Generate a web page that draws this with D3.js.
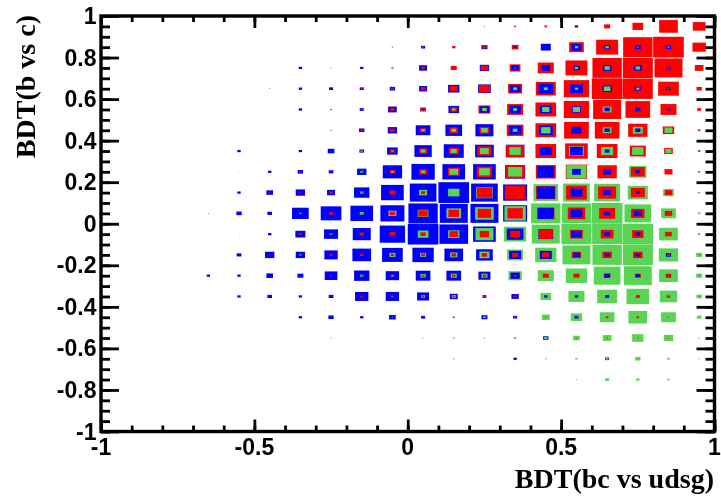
<!DOCTYPE html>
<html><head><meta charset="utf-8">
<script src="https://cdn.jsdelivr.net/npm/d3@7/dist/d3.min.js"></script>
<style>html,body{margin:0;padding:0;background:#fff}svg{display:block;filter:blur(0.45px)}</style>
</head><body><svg id="c" width="721" height="502"></svg>
<script>
const xCenters=[-0.65,-0.55,-0.45,-0.35,-0.25,-0.15,-0.05,0.05,0.15,0.25,0.35,0.45,0.55,0.65,0.75,0.85,0.95];
const yCenters=[0.95,0.85,0.75,0.65,0.55,0.45,0.35,0.25,0.15,0.05,-0.05,-0.15,-0.25,-0.35,-0.45,-0.55,-0.65,-0.75];
// box widths per bin (92 = full bin)
const redSizes=[
[0,0,0,0,0,0,0,0,0,3,6,8,3,18,32,56,38],
[0,0,0,0,0,0,4,6,10,12,20,2,44,66,88,92,40],
[0,0,0,0,3,4,6,10,18,22,32,48,66,88,90,84,26],
[0,0,3,0,3,6,8,14,24,34,42,60,76,92,90,62,16],
[0,0,0,0,5,5,12,18,20,36,48,62,76,84,74,48,12],
[0,0,0,0,4,8,14,18,26,30,50,62,74,74,58,34,6],
[0,0,0,0,3,6,14,24,30,42,54,62,68,62,48,26,6],
[0,2,0,6,4,6,16,24,36,46,58,60,64,58,42,24,4],
[0,0,4,4,10,4,18,12,0,46,62,58,62,54,42,22,6],
[3,0,0,0,12,4,16,28,32,40,46,52,52,48,40,22,6],
[0,2,2,8,6,14,18,16,26,28,30,42,38,38,34,20,6],
[0,0,4,0,8,10,10,12,14,16,18,22,28,28,28,10,4],
[0,0,0,3,6,6,10,8,10,10,8,18,18,20,18,14,4],
[0,0,0,2,0,8,4,8,6,8,8,0,0,0,12,10,3],
[0,0,0,0,0,0,3,0,6,0,0,4,6,8,8,4,0],
[0,0,0,0,3,0,0,3,0,0,0,0,4,4,4,4,0],
[0,0,0,0,0,0,0,0,0,0,0,0,0,0,0,0,0],
[0,0,0,0,0,0,0,0,0,0,0,0,0,0,0,0,0]];
const greenSizes=[
[0,0,0,0,0,0,0,0,0,0,0,0,0,0,0,0,0],
[0,0,0,0,0,0,0,0,0,0,0,0,10,10,5,6,0],
[0,0,0,0,0,0,0,0,0,0,4,0,10,16,14,4,0],
[0,0,0,0,0,0,0,0,0,0,12,12,10,20,10,4,0],
[0,0,0,0,0,0,0,8,10,14,12,22,22,26,0,0,0],
[0,0,0,0,0,0,0,10,14,20,14,28,0,26,30,24,8],
[0,0,0,0,0,8,6,14,18,26,34,0,44,36,34,18,8],
[0,0,0,0,0,10,8,12,26,32,42,0,60,0,52,0,8],
[0,0,0,0,0,10,0,24,34,50,0,74,80,78,60,32,4],
[0,0,0,6,0,12,24,32,44,56,64,88,88,92,80,44,6],
[0,0,0,0,8,0,0,32,34,54,66,84,90,90,92,56,4],
[0,0,0,6,0,0,18,18,22,30,48,64,84,88,90,58,18],
[0,0,0,0,0,10,6,16,18,18,40,48,64,80,84,56,18],
[0,0,0,0,0,0,6,12,12,0,0,32,48,60,68,52,16],
[0,0,0,0,0,0,4,0,0,8,4,24,34,44,56,44,14],
[0,0,0,0,0,0,0,0,6,5,8,10,20,26,34,28,5],
[0,0,0,0,0,0,0,0,5,0,0,5,7,8,16,8,4],
[0,0,0,0,0,0,0,0,0,0,0,0,4,12,10,7,0]];
const blueSizes=[
[0,0,0,0,0,0,0,0,0,0,0,0,10,0,0,0,0],
[0,0,0,0,0,0,0,12,0,18,8,30,30,18,18,16,0],
[0,0,0,10,0,10,0,24,0,28,22,26,20,26,24,12,0],
[0,0,0,10,12,12,16,24,34,38,32,44,38,28,18,12,0],
[0,0,0,10,0,12,26,8,32,28,34,34,28,16,16,10,0],
[0,0,0,0,0,16,28,44,50,54,38,42,30,16,16,0,0],
[0,10,0,10,20,14,32,52,60,56,56,36,38,14,0,0,0],
[0,0,10,16,14,28,58,70,68,68,60,50,26,24,14,0,0],
[0,10,20,28,24,46,68,80,92,80,72,54,36,22,10,0,0],
[0,16,14,50,62,68,72,88,84,84,72,48,36,18,24,0,0],
[0,0,10,30,42,54,76,92,86,68,50,44,30,18,16,0,0],
[0,14,28,28,40,56,62,64,56,50,36,36,20,14,14,16,0],
[10,10,20,18,38,46,40,44,44,36,28,0,0,16,12,16,0],
[0,10,14,10,14,40,40,36,24,12,22,10,10,12,0,0,0],
[0,0,0,10,16,10,20,12,0,18,12,0,12,0,0,0,0],
[0,0,0,0,0,0,0,0,0,0,0,16,0,0,0,0,0],
[0,0,0,0,0,0,0,0,0,0,10,0,0,12,0,0,0],
[0,0,0,0,0,0,0,0,0,0,0,0,0,0,0,0,0]];
const xLabels=["-1","-0.5","0","0.5","1"];
const yLabels=["-1","-0.8","-0.6","-0.4","-0.2","0","0.2","0.4","0.6","0.8","1"];
const xMajor=[-1,-0.5,0,0.5,1];
const yMajor=[-1,-0.8,-0.6,-0.4,-0.2,0,0.2,0.4,0.6,0.8,1];

const svg=d3.select("#c");
const L=101,R=714.5,T=16,B=431.5;
const x=d3.scaleLinear().domain([-1,1]).range([L,R]);
const y=d3.scaleLinear().domain([-1,1]).range([B,T]);
const binW=x(0.1)-x(0), binH=y(0)-y(0.1);
const sizeX=d3.scaleLinear().domain([0,92]).range([0,binW]);
const sizeY=d3.scaleLinear().domain([0,92]).range([0,binH]);
const colors={r:"#ff0000",g:"#59d454",b:"#0000ff"};

const cells=[];
yCenters.forEach((yc,ri)=>xCenters.forEach((xc,ci)=>{
  const parts=[["r",redSizes[ri][ci]],["g",greenSizes[ri][ci]],["b",blueSizes[ri][ci]]]
    .filter(d=>d[1]>0).sort((a,b)=>b[1]-a[1]);
  parts.forEach(p=>cells.push({xc,yc,k:p[0],v:p[1]}));
}));
svg.append("g").selectAll("rect").data(cells).join("rect")
  .attr("x",d=>x(d.xc)-sizeX(d.v)/2)
  .attr("y",d=>y(d.yc)-sizeY(d.v)/2)
  .attr("width",d=>sizeX(d.v))
  .attr("height",d=>sizeY(d.v))
  .attr("fill",d=>colors[d.k]);

const xMinor=d3.range(-10,11).map(d=>d/10);
const yMinor=d3.range(-20,21).map(d=>d/20);
function axisG(gen,tr){
  const g=svg.append("g").attr("transform",tr).call(gen);
  g.selectAll("text").remove();
  g.select(".domain").remove();
  g.selectAll("line").attr("stroke","#000").attr("stroke-width",2.8);
  return g;
}
const fmt=()=> "";
axisG(d3.axisBottom(x).tickValues(xMinor).tickSize(-6).tickFormat(fmt),`translate(0,${B})`);
axisG(d3.axisBottom(x).tickValues(xMajor).tickSize(-12).tickFormat(fmt),`translate(0,${B})`);
axisG(d3.axisTop(x).tickValues(xMinor).tickSize(-6).tickFormat(fmt),`translate(0,${T})`);
axisG(d3.axisTop(x).tickValues(xMajor).tickSize(-12).tickFormat(fmt),`translate(0,${T})`);
axisG(d3.axisLeft(y).tickValues(yMinor).tickSize(-9).tickFormat(fmt),`translate(${L},0)`);
axisG(d3.axisLeft(y).tickValues(yMajor).tickSize(-18).tickFormat(fmt),`translate(${L},0)`);
axisG(d3.axisRight(y).tickValues(yMinor).tickSize(-9).tickFormat(fmt),`translate(${R},0)`);
axisG(d3.axisRight(y).tickValues(yMajor).tickSize(-18).tickFormat(fmt),`translate(${R},0)`);
svg.append("rect").attr("x",L).attr("y",T).attr("width",R-L).attr("height",B-T)
  .attr("fill","none").attr("stroke","#000").attr("stroke-width",3.4);

const sans="'Liberation Sans',Arial,sans-serif", serif="'Liberation Serif','Times New Roman',serif";
svg.append("g").selectAll("text").data(xMajor).join("text")
  .attr("x",d=>x(d)).attr("y",455).attr("text-anchor","middle")
  .attr("font-family",sans).attr("font-weight",700).attr("font-size",23)
  .text((d,i)=>xLabels[i]);
svg.append("g").selectAll("text").data(yMajor).join("text")
  .attr("x",96.5).attr("y",d=>y(d)+8).attr("text-anchor","end")
  .attr("font-family",sans).attr("font-weight",700).attr("font-size",23)
  .text((d,i)=>yLabels[i]);
svg.append("text").attr("x",714).attr("y",488).attr("text-anchor","end")
  .attr("font-family",serif).attr("font-weight",700).attr("font-size",28).text("BDT(bc vs udsg)");
svg.append("text").attr("transform","translate(35,15) rotate(-90)").attr("text-anchor","end")
  .attr("font-family",serif).attr("font-weight",700).attr("font-size",28).text("BDT(b vs c)");
</script></body></html>
